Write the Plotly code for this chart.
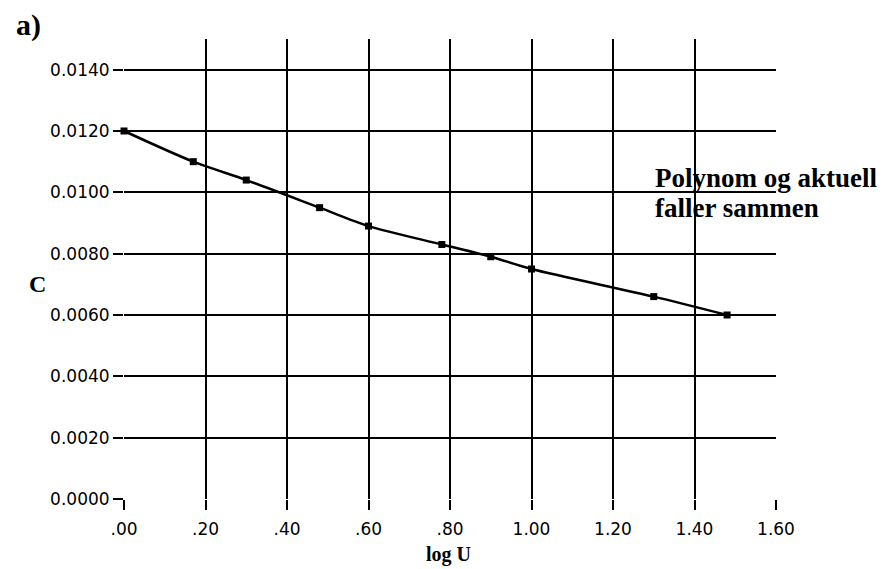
import plotly.graph_objects as go

# Data
log_u = [0.00, 0.17, 0.30, 0.48, 0.60, 0.78, 0.90, 1.00, 1.30, 1.48]
c_vals = [0.0120, 0.0110, 0.0104, 0.0095, 0.0089, 0.0083, 0.0079, 0.0075, 0.0066, 0.0060]

x_ticks = [0.0, 0.2, 0.4, 0.6, 0.8, 1.0, 1.2, 1.4, 1.6]
x_ticktext = [".00", ".20", ".40", ".60", ".80", "1.00", "1.20", "1.40", "1.60"]
y_ticks = [0.0, 0.002, 0.004, 0.006, 0.008, 0.010, 0.012, 0.014]
y_ticktext = ["0.0000", "0.0020", "0.0040", "0.0060", "0.0080", "0.0100", "0.0120", "0.0140"]

fig = go.Figure()
fig.add_trace(go.Scatter(
    x=log_u, y=c_vals, mode="lines+markers",
    line=dict(color="black", width=2.5, shape="spline", smoothing=0.8),
    marker=dict(symbol="square", size=7, color="black"),
    showlegend=False, cliponaxis=False,
))

tick_font = dict(family="DejaVu Sans", size=17, color="black")
serif_bold = "Liberation Serif"

fig.update_layout(
    width=882, height=569,
    margin=dict(l=124, r=106, t=39, b=70),
    paper_bgcolor="white", plot_bgcolor="white",
    xaxis=dict(
        range=[0, 1.6], tickvals=x_ticks, ticktext=x_ticktext,
        showgrid=True, gridcolor="black", gridwidth=2,
        ticks="outside", ticklen=10, tickwidth=2, tickcolor="black",
        ticklabelstandoff=5,
        showline=False, zeroline=False, tickfont=tick_font,
    ),
    yaxis=dict(
        range=[0, 0.015], tickvals=y_ticks, ticktext=y_ticktext,
        showgrid=True, gridcolor="black", gridwidth=2,
        ticks="outside", ticklen=10, tickwidth=2, tickcolor="black",
        showline=False, zeroline=False, tickfont=tick_font,
    ),
    annotations=[
        dict(text="<b>a)</b>", xref="paper", yref="paper", x=-0.147, y=1.03,
             xanchor="center", yanchor="middle", showarrow=False,
             font=dict(family=serif_bold, size=30, color="black")),
        dict(text="<b>C</b>", xref="paper", yref="paper", x=-0.133, y=0.467,
             xanchor="center", yanchor="middle", showarrow=False,
             font=dict(family=serif_bold, size=24, color="black")),
        dict(text="<b>log U</b>", xref="paper", yref="paper", x=0.497, y=-0.12,
             xanchor="center", yanchor="middle", showarrow=False,
             font=dict(family=serif_bold, size=20, color="black")),
        dict(text="<b>Polynom og aktuell</b>", x=1.2985, y=0.01047,
             xanchor="left", yanchor="middle", showarrow=False,
             font=dict(family=serif_bold, size=27, color="black")),
        dict(text="<b>faller sammen</b>", x=1.2985, y=0.00949,
             xanchor="left", yanchor="middle", showarrow=False,
             font=dict(family=serif_bold, size=27, color="black")),
    ],
)

fig.write_html("out.html")
